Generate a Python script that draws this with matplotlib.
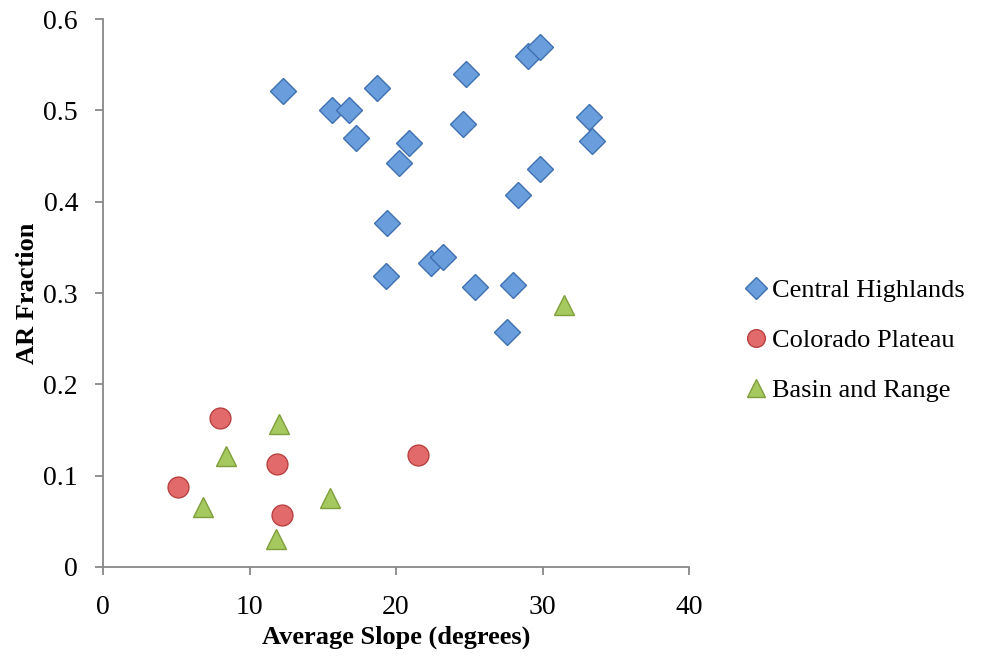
import numpy as np
import matplotlib.pyplot as plt

# Central Highlands
ch_x = [12.3, 15.6, 16.8, 17.3, 18.7, 20.9, 20.2, 19.4, 19.3, 22.4, 23.2, 24.8, 24.6,
        25.4, 28.0, 27.6, 28.3, 29.0, 29.8, 29.8, 33.2, 33.4]
ch_y = [0.521, 0.500, 0.500, 0.470, 0.525, 0.464, 0.442, 0.377, 0.319, 0.333, 0.340,
        0.540, 0.485, 0.307, 0.309, 0.257, 0.407, 0.560, 0.570, 0.436, 0.493, 0.467]

# Colorado Plateau
cp_x = [5.1, 8.0, 11.9, 12.2, 21.5]
cp_y = [0.088, 0.163, 0.113, 0.057, 0.123]

# Basin and Range
br_x = [6.8, 8.4, 12.0, 11.8, 15.5, 31.5]
br_y = [0.066, 0.121, 0.157, 0.031, 0.076, 0.287]

plt.rcParams['font.family'] = ['Liberation Serif', 'DejaVu Serif']

fig = plt.figure(figsize=(9.84, 6.6), dpi=100)
ax = fig.add_axes([0.1047, 0.141, 0.5955, 0.830])

ax.plot(ch_x, ch_y, 'D', ms=13, mfc='#6a9ddb', mec='#3f70b0', mew=1, label='Central Highlands')
ax.plot(cp_x, cp_y, 'o', ms=15, mfc='#e36a6a', mec='#b94141', mew=1, label='Colorado Plateau')
ax.plot(br_x, br_y, '^', ms=15, mfc='#a6c95f', mec='#7f9e3c', mew=1, label='Basin and Range')

ax.set_xlim(0, 40)
ax.set_ylim(0, 0.6)
ax.set_xticks([0, 10, 20, 30, 40])
ax.set_yticks([0, 0.1, 0.2, 0.3, 0.4, 0.5, 0.6])
ax.set_yticklabels(['0', '0.1', '0.2', '0.3', '0.4', '0.5', '0.6'])

for s in ['top', 'right']:
    ax.spines[s].set_visible(False)
for s in ['left', 'bottom']:
    ax.spines[s].set_color('#888888')
    ax.spines[s].set_linewidth(1.3)
ax.tick_params(direction='out', length=6, width=1.3, color='#888888', labelsize=20)
ax.tick_params(axis='x', pad=14)
ax.tick_params(axis='y', pad=12)

ax.set_xlabel('Average Slope (degrees)', fontsize=19, fontweight='bold', labelpad=4)
ax.set_ylabel('AR Fraction', fontsize=19, fontweight='bold', labelpad=3)

ax.legend(loc='center left', bbox_to_anchor=(1.07, 0.414), frameon=False, fontsize=19,
          handletextpad=0.0, labelspacing=1.0, handlelength=1.2, markerscale=0.85,
          borderaxespad=0)

fig.savefig('out.png', dpi=100)
